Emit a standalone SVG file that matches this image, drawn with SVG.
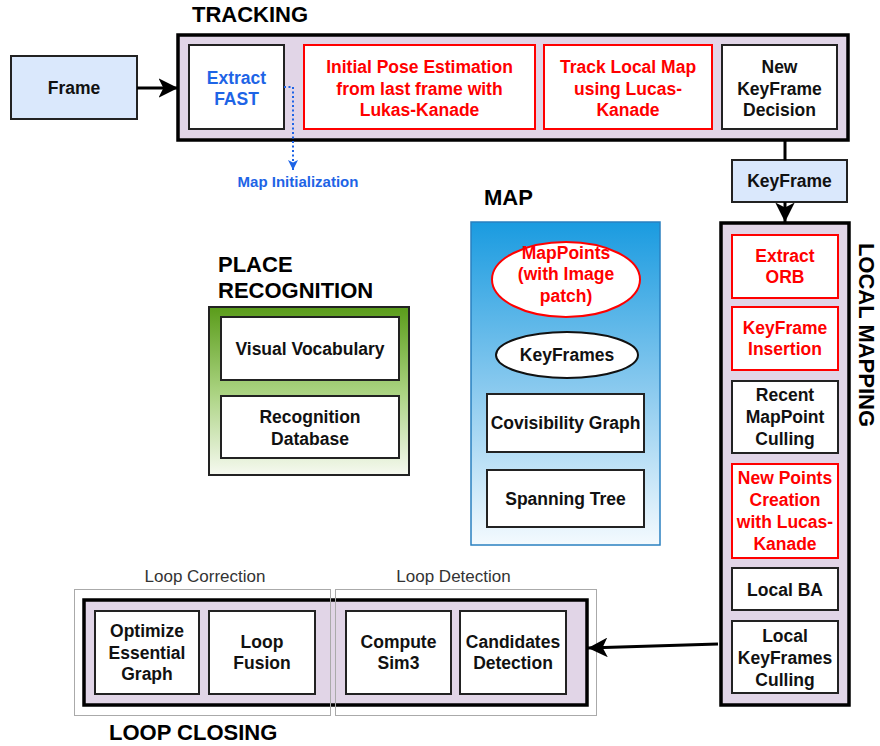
<svg xmlns="http://www.w3.org/2000/svg" width="880" height="746" viewBox="0 0 880 746">
<defs>
<linearGradient id="gGreen" x1="0" y1="0" x2="0" y2="1">
<stop offset="0" stop-color="#5a9c1a"/>
<stop offset="0.5" stop-color="#a9d27f"/>
<stop offset="1" stop-color="#f6f9f0"/>
</linearGradient>
<linearGradient id="gBlue" x1="0" y1="0" x2="0" y2="1">
<stop offset="0" stop-color="#1a9be0"/>
<stop offset="0.5" stop-color="#86c8ee"/>
<stop offset="1" stop-color="#f4fafe"/>
</linearGradient>
<marker id="ah" viewBox="0 0 20 20" refX="20" refY="10" markerWidth="6.5" markerHeight="6.5" orient="auto" markerUnits="strokeWidth">
<path d="M0,0 L20,10 L0,20 L5,10 Z" fill="#000"/>
</marker>
<marker id="ahBlue" viewBox="0 0 10 10" refX="10" refY="5" markerWidth="5" markerHeight="6" orient="auto" markerUnits="strokeWidth">
<path d="M0,0 L10,5 L0,10 L2.5,5 Z" fill="#1e64e6"/>
</marker>
</defs>
<style>
text{font-family:"Liberation Sans",Arial,Helvetica,sans-serif;font-weight:bold;font-size:17.5px;text-anchor:middle;fill:#111}
.title{font-size:22px;text-anchor:start;fill:#000}
.red{fill:#ff0000}
.blue{fill:#1e64e6}
.lbl{font-weight:normal;fill:#333;font-size:17px}
.small{font-size:15px}
.outer{fill:#e1d5e7;stroke:#000;stroke-width:3.5}
.box{fill:#fff;stroke:#222;stroke-width:2}
.rbox{fill:#fff;stroke:#ff0000;stroke-width:2}
.lb{fill:#dae8fc;stroke:#222;stroke-width:2}
.thin{fill:none;stroke:#aaa;stroke-width:1}
.conn{fill:none;stroke:#000;stroke-width:3}
</style>

<text class="title" x="192" y="22">TRACKING</text>
<text class="title" x="484" y="205">MAP</text>
<text class="title" x="218" y="272">PLACE</text>
<text class="title" x="218" y="298">RECOGNITION</text>
<text class="title" x="109" y="740">LOOP CLOSING</text>
<text class="title" transform="translate(859,335) rotate(90)" style="text-anchor:middle">LOCAL MAPPING</text>

<g id="frame">
<rect class="lb" x="11" y="56" width="126" height="63"/>
<text x="74" y="94">Frame</text>
</g>

<g id="tracking">
<rect class="outer" x="178" y="35" width="670" height="105"/>
</g>
<g id="extract-fast">
<rect class="box" x="189" y="45" width="95" height="84"/>
<text class="blue" x="236.5" y="84">Extract</text>
<text class="blue" x="236.5" y="105">FAST</text>
</g>
<g id="initial-pose">
<rect class="rbox" x="304" y="45" width="231" height="84"/>
<text class="red" x="419.5" y="73">Initial Pose Estimation</text>
<text class="red" x="419.5" y="94.5">from last frame with</text>
<text class="red" x="419.5" y="116">Lukas-Kanade</text>
</g>
<g id="track-local-map">
<rect class="rbox" x="544" y="45" width="168" height="84"/>
<text class="red" x="628" y="73">Track Local Map</text>
<text class="red" x="628" y="94.5">using Lucas-</text>
<text class="red" x="628" y="116">Kanade</text>
</g>
<g id="new-keyframe-decision">
<rect class="box" x="722" y="45" width="115" height="84"/>
<text x="779.5" y="73">New</text>
<text x="779.5" y="94.5">KeyFrame</text>
<text x="779.5" y="116">Decision</text>
</g>

<g id="map-initialization">
<text class="blue small" x="298" y="187">Map Initialization</text>
</g>

<g id="keyframe">
<rect class="lb" x="732" y="160" width="115" height="42"/>
<text x="789.5" y="187">KeyFrame</text>
</g>

<g id="place-recognition">
<rect x="209" y="307" width="200" height="168" fill="url(#gGreen)" stroke="#222" stroke-width="2"/>
</g>
<g id="visual-vocabulary">
<rect class="box" x="221" y="317" width="178" height="63"/>
<text x="310" y="354.5">Visual Vocabulary</text>
</g>
<g id="recognition-database">
<rect class="box" x="221" y="396" width="178" height="62"/>
<text x="310" y="423">Recognition</text>
<text x="310" y="445">Database</text>
</g>

<g id="map">
<rect x="471" y="222" width="189" height="323" fill="url(#gBlue)" stroke="#2a80c0" stroke-width="1.5"/>
</g>
<g id="mappoints">
<ellipse cx="566" cy="279.5" rx="74" ry="37.5" fill="#fff" stroke="#ff0000" stroke-width="2"/>
<text class="red" x="566" y="259">MapPoints</text>
<text class="red" x="566" y="280">(with Image</text>
<text class="red" x="566" y="302">patch)</text>
</g>
<g id="keyframes">
<ellipse cx="567" cy="355" rx="71" ry="23" fill="#fff" stroke="#111" stroke-width="2"/>
<text x="567" y="361">KeyFrames</text>
</g>
<g id="covisibility-graph">
<rect class="box" x="487" y="394" width="157" height="58"/>
<text x="565.5" y="429">Covisibility Graph</text>
</g>
<g id="spanning-tree">
<rect class="box" x="487" y="470" width="157" height="57"/>
<text x="565.5" y="504.5">Spanning Tree</text>
</g>

<g id="local-mapping">
<rect class="outer" x="721" y="223" width="128" height="482"/>
</g>
<g id="extract-orb">
<rect class="rbox" x="732" y="235" width="106" height="63"/>
<text class="red" x="785" y="262">Extract</text>
<text class="red" x="785" y="283">ORB</text>
</g>
<g id="keyframe-insertion">
<rect class="rbox" x="732" y="307" width="106" height="63"/>
<text class="red" x="785" y="334">KeyFrame</text>
<text class="red" x="785" y="355">Insertion</text>
</g>
<g id="recent-mappoint-culling">
<rect class="box" x="732" y="381" width="106" height="72"/>
<text x="785" y="401">Recent</text>
<text x="785" y="423">MapPoint</text>
<text x="785" y="445">Culling</text>
</g>
<g id="new-points-creation">
<rect class="rbox" x="732" y="464" width="106" height="94"/>
<text class="red" x="785" y="484">New Points</text>
<text class="red" x="785" y="506">Creation</text>
<text class="red" x="785" y="528">with Lucas-</text>
<text class="red" x="785" y="550">Kanade</text>
</g>
<g id="local-ba">
<rect class="box" x="732" y="568" width="106" height="42"/>
<text x="785" y="596">Local BA</text>
</g>
<g id="local-keyframes-culling">
<rect class="box" x="732" y="621" width="106" height="72"/>
<text x="785" y="642">Local</text>
<text x="785" y="664">KeyFrames</text>
<text x="785" y="686">Culling</text>
</g>

<g id="loop-closing">
<rect class="outer" x="84" y="600" width="503" height="105"/>
</g>
<g id="loop-correction">
<rect class="thin" x="74.5" y="589.5" width="256" height="126"/>
<text class="lbl" x="205" y="582">Loop Correction</text>
</g>
<g id="loop-detection">
<rect class="thin" x="335.5" y="589.5" width="261" height="126"/>
<text class="lbl" x="453.5" y="582">Loop Detection</text>
</g>
<g id="optimize-essential-graph">
<rect class="box" x="95" y="611" width="104" height="83"/>
<text x="147" y="637">Optimize</text>
<text x="147" y="658.5">Essential</text>
<text x="147" y="680">Graph</text>
</g>
<g id="loop-fusion">
<rect class="box" x="209" y="611" width="106" height="83"/>
<text x="262" y="648">Loop</text>
<text x="262" y="669">Fusion</text>
</g>
<g id="compute-sim3">
<rect class="box" x="346" y="611" width="105" height="83"/>
<text x="398.5" y="648">Compute</text>
<text x="398.5" y="669">Sim3</text>
</g>
<g id="candidates-detection">
<rect class="box" x="460" y="611" width="106" height="83"/>
<text x="513" y="648">Candidates</text>
<text x="513" y="669">Detection</text>
</g>

<g id="connectors">
<line class="conn" x1="137" y1="88" x2="178" y2="88" marker-end="url(#ah)"/>
<path d="M284,87 H293 V170" fill="none" stroke="#1e64e6" stroke-width="2" stroke-dasharray="2,2.5" marker-end="url(#ahBlue)"/>
<line class="conn" x1="785" y1="140" x2="785" y2="160"/>
<line class="conn" x1="785" y1="202" x2="785" y2="222" marker-end="url(#ah)"/>
<line class="conn" x1="718" y1="644" x2="588" y2="648" marker-end="url(#ah)"/>
</g>
</svg>
